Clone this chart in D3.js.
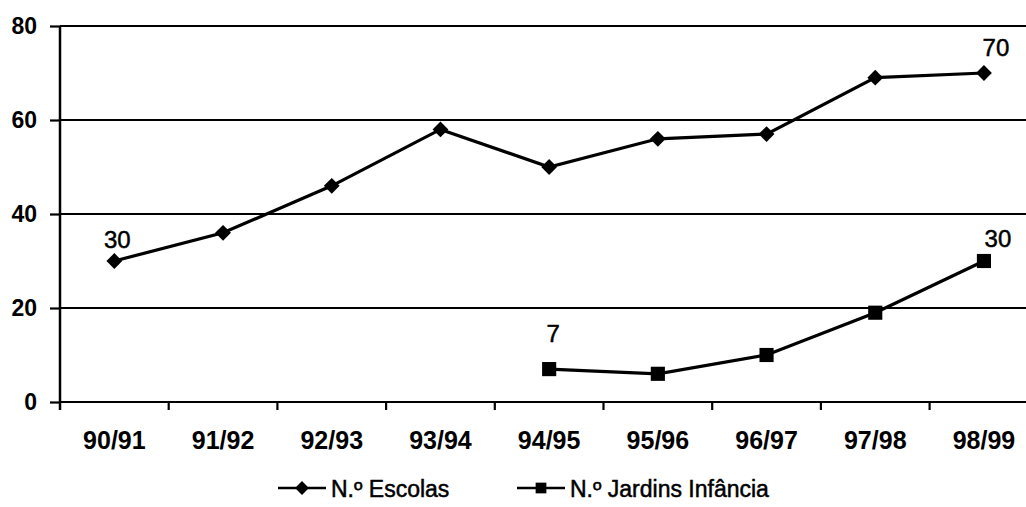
<!DOCTYPE html>
<html>
<head>
<meta charset="utf-8">
<script src="https://cdn.jsdelivr.net/npm/d3@7"></script>
<style>
  html, body { margin: 0; padding: 0; background: #fff; }
  svg { display: block; font-family: "Liberation Sans", Arial, sans-serif; }
</style>
</head>
<body>
<svg id="chart" width="1026" height="507"></svg>
<script>
// School years
const categories = ["90/91", "91/92", "92/93", "93/94", "94/95", "95/96", "96/97", "97/98", "98/99"];
// Number of schools per year
const escolas = [30, 36, 46, 58, 50, 56, 57, 69, 70];
// Number of kindergartens (from 94/95 onward)
const jardinsYears = ["94/95", "95/96", "96/97", "97/98", "98/99"];
const jardins = [7, 6, 10, 19, 30];
const yTicks = [0, 20, 40, 60, 80];
const seriesNames = ["N.º Escolas", "N.º Jardins Infância"];

const svg = d3.select("#chart");
const plotLeft = 60, plotTop = 26, plotBottom = 402;
const bandW = 108.7;

const x = d3.scaleBand().domain(categories).range([plotLeft, plotLeft + bandW * categories.length]).padding(0);
const cx = d => x(d) + x.bandwidth() / 2;
const y = d3.scaleLinear().domain([0, 80]).range([plotBottom, plotTop]);

// Horizontal gridlines
svg.append("g").selectAll("line").data(yTicks).join("line")
  .attr("x1", plotLeft).attr("x2", 1026)
  .attr("y1", d => y(d)).attr("y2", d => y(d))
  .attr("stroke", "#000").attr("stroke-width", 2.2);

// Y axis
const yAxis = svg.append("g").attr("transform", `translate(${plotLeft},0)`)
  .call(d3.axisLeft(y).tickValues(yTicks).tickSize(10).tickPadding(13));
yAxis.select(".domain").remove();
yAxis.selectAll(".tick line").attr("stroke", "#000").attr("stroke-width", 2.2);
yAxis.selectAll(".tick text").attr("font-size", 23).attr("font-weight", "bold")
  .attr("fill", "#000").attr("font-family", "Liberation Sans, Arial, sans-serif");
svg.append("line").attr("x1", plotLeft).attr("x2", plotLeft).attr("y1", plotTop).attr("y2", plotBottom + 8)
  .attr("stroke", "#000").attr("stroke-width", 2.5);

// X axis labels and tick marks at band boundaries
const xAxis = svg.append("g").attr("transform", `translate(0,${plotBottom})`)
  .call(d3.axisBottom(x).tickSize(0).tickPadding(29));
xAxis.select(".domain").remove();
xAxis.selectAll(".tick text").attr("font-size", 25).attr("font-weight", "bold")
  .attr("fill", "#000").attr("font-family", "Liberation Sans, Arial, sans-serif");
svg.append("g").selectAll("line").data(categories.slice(1)).join("line")
  .attr("x1", d => x(d)).attr("x2", d => x(d))
  .attr("y1", plotBottom).attr("y2", plotBottom + 8)
  .attr("stroke", "#000").attr("stroke-width", 2.2);

const line = d3.line().x(d => cx(d[0])).y(d => y(d[1]));

// Escolas series
const escData = categories.map((c, i) => [c, escolas[i]]);
svg.append("path").datum(escData).attr("d", line)
  .attr("fill", "none").attr("stroke", "#000").attr("stroke-width", 3.2);
svg.append("g").selectAll("path").data(escData).join("path")
  .attr("d", d3.symbol().type(d3.symbolSquare).size(125))
  .attr("transform", d => `translate(${cx(d[0])},${y(d[1])}) rotate(45)`)
  .attr("fill", "#000");

// Jardins series
const jarData = jardinsYears.map((c, i) => [c, jardins[i]]);
svg.append("path").datum(jarData).attr("d", line)
  .attr("fill", "none").attr("stroke", "#000").attr("stroke-width", 3.2);
svg.append("g").selectAll("path").data(jarData).join("path")
  .attr("d", d3.symbol().type(d3.symbolSquare).size(200))
  .attr("transform", d => `translate(${cx(d[0])},${y(d[1])})`)
  .attr("fill", "#000");

// Value labels on first and last points
const labels = [
  { cat: categories[0], v: escolas[0], dx: 3, dy: -13 },
  { cat: categories[8], v: escolas[8], dx: 12, dy: -17 },
  { cat: jardinsYears[0], v: jardins[0], dx: 4, dy: -27 },
  { cat: jardinsYears[4], v: jardins[4], dx: 14, dy: -14 }
];
svg.append("g").selectAll("text").data(labels).join("text")
  .attr("x", d => cx(d.cat) + d.dx).attr("y", d => y(d.v) + d.dy)
  .attr("text-anchor", "middle").attr("font-size", 24).attr("fill", "#000")
  .attr("stroke", "#000").attr("stroke-width", 0.5)
  .text(d => d.v);

// Legend
const legend = svg.append("g");
const legendItems = [
  { name: seriesNames[0], x0: 278, sym: "diamond" },
  { name: seriesNames[1], x0: 517, sym: "square" }
];
legendItems.forEach(it => {
  const g = legend.append("g");
  g.append("line").attr("x1", it.x0).attr("x2", it.x0 + 48)
    .attr("y1", 488).attr("y2", 488).attr("stroke", "#000").attr("stroke-width", 2.5);
  if (it.sym === "diamond") {
    g.append("path").attr("d", d3.symbol().type(d3.symbolSquare).size(95))
      .attr("transform", `translate(${it.x0 + 24},488) rotate(45)`).attr("fill", "#000");
  } else {
    g.append("path").attr("d", d3.symbol().type(d3.symbolSquare).size(115))
      .attr("transform", `translate(${it.x0 + 24},488)`).attr("fill", "#000");
  }
  g.append("text").attr("x", it.x0 + 53).attr("y", 497)
    .attr("font-size", 23).attr("fill", "#000")
    .attr("stroke", "#000").attr("stroke-width", 0.5).text(it.name);
});
</script>
</body>
</html>
